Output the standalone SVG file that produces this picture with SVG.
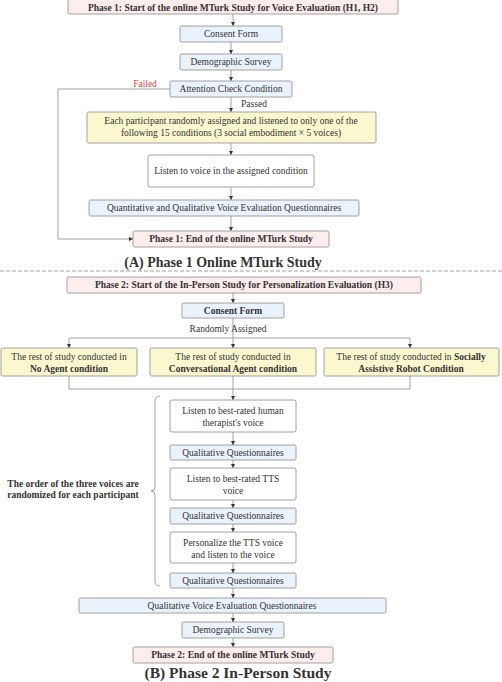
<svg xmlns="http://www.w3.org/2000/svg" width="502" height="682" viewBox="0 0 502 682">
<style>
text{font-family:"Liberation Serif","Times New Roman",serif;font-size:9.5px;fill:#333;text-anchor:middle}
.b{font-weight:bold}
.capA{font-size:14px;font-weight:bold;fill:#333}
.capB{font-size:15.5px;font-weight:bold;fill:#333}
.pink{fill:#fdeded;stroke:#8a8a8a;stroke-width:0.8}
.blue{fill:#eaf2fc;stroke:#8a8a8a;stroke-width:0.8}
.yel{fill:#fbf8d0;stroke:#8a8a8a;stroke-width:0.8}
.wht{fill:#ffffff;stroke:#8a8a8a;stroke-width:0.8}
.c{fill:none;stroke:#999;stroke-width:0.9}
.a{marker-end:url(#ar)}
</style>
<defs>
<marker id="ar" viewBox="0 0 6 6" refX="6" refY="3" markerWidth="4.5" markerHeight="4.5" orient="auto" markerUnits="userSpaceOnUse">
<path d="M0,0 L6,3 L0,6 z" fill="#333"/>
</marker>
</defs>
<rect width="502" height="682" fill="#fff"/>

<g id="connectors">
<path class="c a" d="M233,14 V26"/>
<path class="c a" d="M231,42 V54"/>
<path class="c a" d="M231,70 V81"/>
<path class="c a" d="M231,97 V112"/>
<path class="c a" d="M231,143 V155"/>
<path class="c a" d="M231,187 V200"/>
<path class="c a" d="M231,216 V231"/>
<path class="c a" d="M170,89 H58 V239 H133"/>
<path class="c a" d="M233,293 V303"/>
<path class="c" d="M233,318 V338"/>
<path class="c a" d="M69,338 H410 V348"/>
<path class="c a" d="M69,338 V348"/>
<path class="c a" d="M233,338 V348"/>
<path class="c" d="M69,376 V389 H410 V376"/>
<path class="c a" d="M233,376 V400"/>
<path class="c a" d="M233,432 V445"/>
<path class="c a" d="M233,460 V468"/>
<path class="c a" d="M233,500 V508"/>
<path class="c a" d="M233,524 V532"/>
<path class="c a" d="M233,563 V573"/>
<path class="c a" d="M233,588 V598"/>
<path class="c a" d="M233,613 V622"/>
<path class="c a" d="M233,638 V647"/>
<path class="c" d="M160,396 Q155,396 155,401 V487 Q155,491 151,491 Q155,491 155,495 V581 Q155,586 160,586"/>
<line x1="0" y1="271" x2="502" y2="271" stroke="#888" stroke-width="0.8" stroke-dasharray="4,2"/>
</g>

<g id="labels">
<text x="145" y="87" style="fill:#e0443a">Failed</text>
<text x="254" y="107">Passed</text>
<text x="228" y="332">Randomly Assigned</text>
<text class="b" x="73" y="487">The order of the three voices are</text>
<text class="b" x="73" y="498">randomized for each participant</text>
<text class="capA" x="223" y="267">(A) Phase 1 Online MTurk Study</text>
<text class="capB" x="238" y="678">(B) Phase 2 In-Person Study</text>
</g>

<g id="p1start"><rect class="pink" x="68" y="-1" width="330" height="15" rx="1.5"/><text class="b" x="233" y="11">Phase 1: Start of the online MTurk Study for Voice Evaluation (H1, H2)</text></g>
<g id="consent1"><rect class="blue" x="180" y="26" width="102" height="16" rx="1.5"/><text x="231" y="37">Consent Form</text></g>
<g id="demo1"><rect class="blue" x="180" y="54" width="102" height="16" rx="1.5"/><text x="231" y="65">Demographic Survey</text></g>
<g id="attention"><rect class="blue" x="170" y="81" width="122" height="16" rx="1.5"/><text x="231" y="92">Attention Check Condition</text></g>
<g id="assign"><rect class="yel" x="87" y="112" width="289" height="31" rx="1.5"/><text x="231" y="124">Each participant randomly assigned and listened to only one of the</text><text x="231" y="136">following 15 conditions (3 social embodiment × 5 voices)</text></g>
<g id="listen1"><rect class="wht" x="148" y="155" width="166" height="32" rx="2"/><text x="231" y="174">Listen to voice in the assigned condition</text></g>
<g id="quant"><rect class="blue" x="89" y="200" width="270" height="16" rx="1.5"/><text x="224" y="211">Quantitative and Qualitative Voice Evaluation Questionnaires</text></g>
<g id="p1end"><rect class="pink" x="133" y="231" width="196" height="16" rx="1.5"/><text class="b" x="231" y="242">Phase 1: End of the online MTurk Study</text></g>

<g id="p2start"><rect class="pink" x="67" y="277" width="354" height="16" rx="1.5"/><text class="b" x="244" y="288">Phase 2: Start of the In-Person Study for Personalization Evaluation (H3)</text></g>
<g id="consent2"><rect class="blue" x="182" y="303" width="102" height="15" rx="1.5"/><text class="b" x="233" y="314">Consent Form</text></g>
<g id="noagent"><rect class="yel" x="1" y="348" width="136" height="28" rx="1.5"/><text x="69" y="360">The rest of study conducted in</text><text class="b" x="69" y="372">No Agent condition</text></g>
<g id="convagent"><rect class="yel" x="150" y="348" width="166" height="28" rx="1.5"/><text x="233" y="360">The rest of study conducted in</text><text class="b" x="233" y="372">Conversational Agent condition</text></g>
<g id="robot"><rect class="yel" x="324" y="348" width="175" height="28" rx="1.5"/><text x="411" y="360">The rest of study conducted in <tspan class="b">Socially</tspan></text><text class="b" x="411" y="372">Assistive Robot Condition</text></g>
<g id="human"><rect class="wht" x="170" y="400" width="126" height="32" rx="2"/><text x="233" y="414">Listen to best-rated human</text><text x="233" y="426">therapist's voice</text></g>
<g id="qq1"><rect class="blue" x="170" y="445" width="126" height="15" rx="1.5"/><text x="233" y="456">Qualitative Questionnaires</text></g>
<g id="tts"><rect class="wht" x="170" y="468" width="126" height="32" rx="2"/><text x="233" y="482">Listen to best-rated TTS</text><text x="233" y="494">voice</text></g>
<g id="qq2"><rect class="blue" x="170" y="508" width="126" height="16" rx="1.5"/><text x="233" y="519">Qualitative Questionnaires</text></g>
<g id="personalize"><rect class="wht" x="170" y="532" width="126" height="31" rx="2"/><text x="233" y="546">Personalize the TTS voice</text><text x="233" y="558">and listen to the voice</text></g>
<g id="qq3"><rect class="blue" x="170" y="573" width="126" height="15" rx="1.5"/><text x="233" y="584">Qualitative Questionnaires</text></g>
<g id="qveq"><rect class="blue" x="79" y="598" width="307" height="15" rx="1.5"/><text x="232" y="609">Qualitative Voice Evaluation Questionnaires</text></g>
<g id="demo2"><rect class="blue" x="182" y="622" width="102" height="16" rx="1.5"/><text x="233" y="633">Demographic Survey</text></g>
<g id="p2end"><rect class="pink" x="133" y="647" width="200" height="16" rx="1.5"/><text class="b" x="233" y="658">Phase 2: End of the online MTurk Study</text></g>
</svg>
